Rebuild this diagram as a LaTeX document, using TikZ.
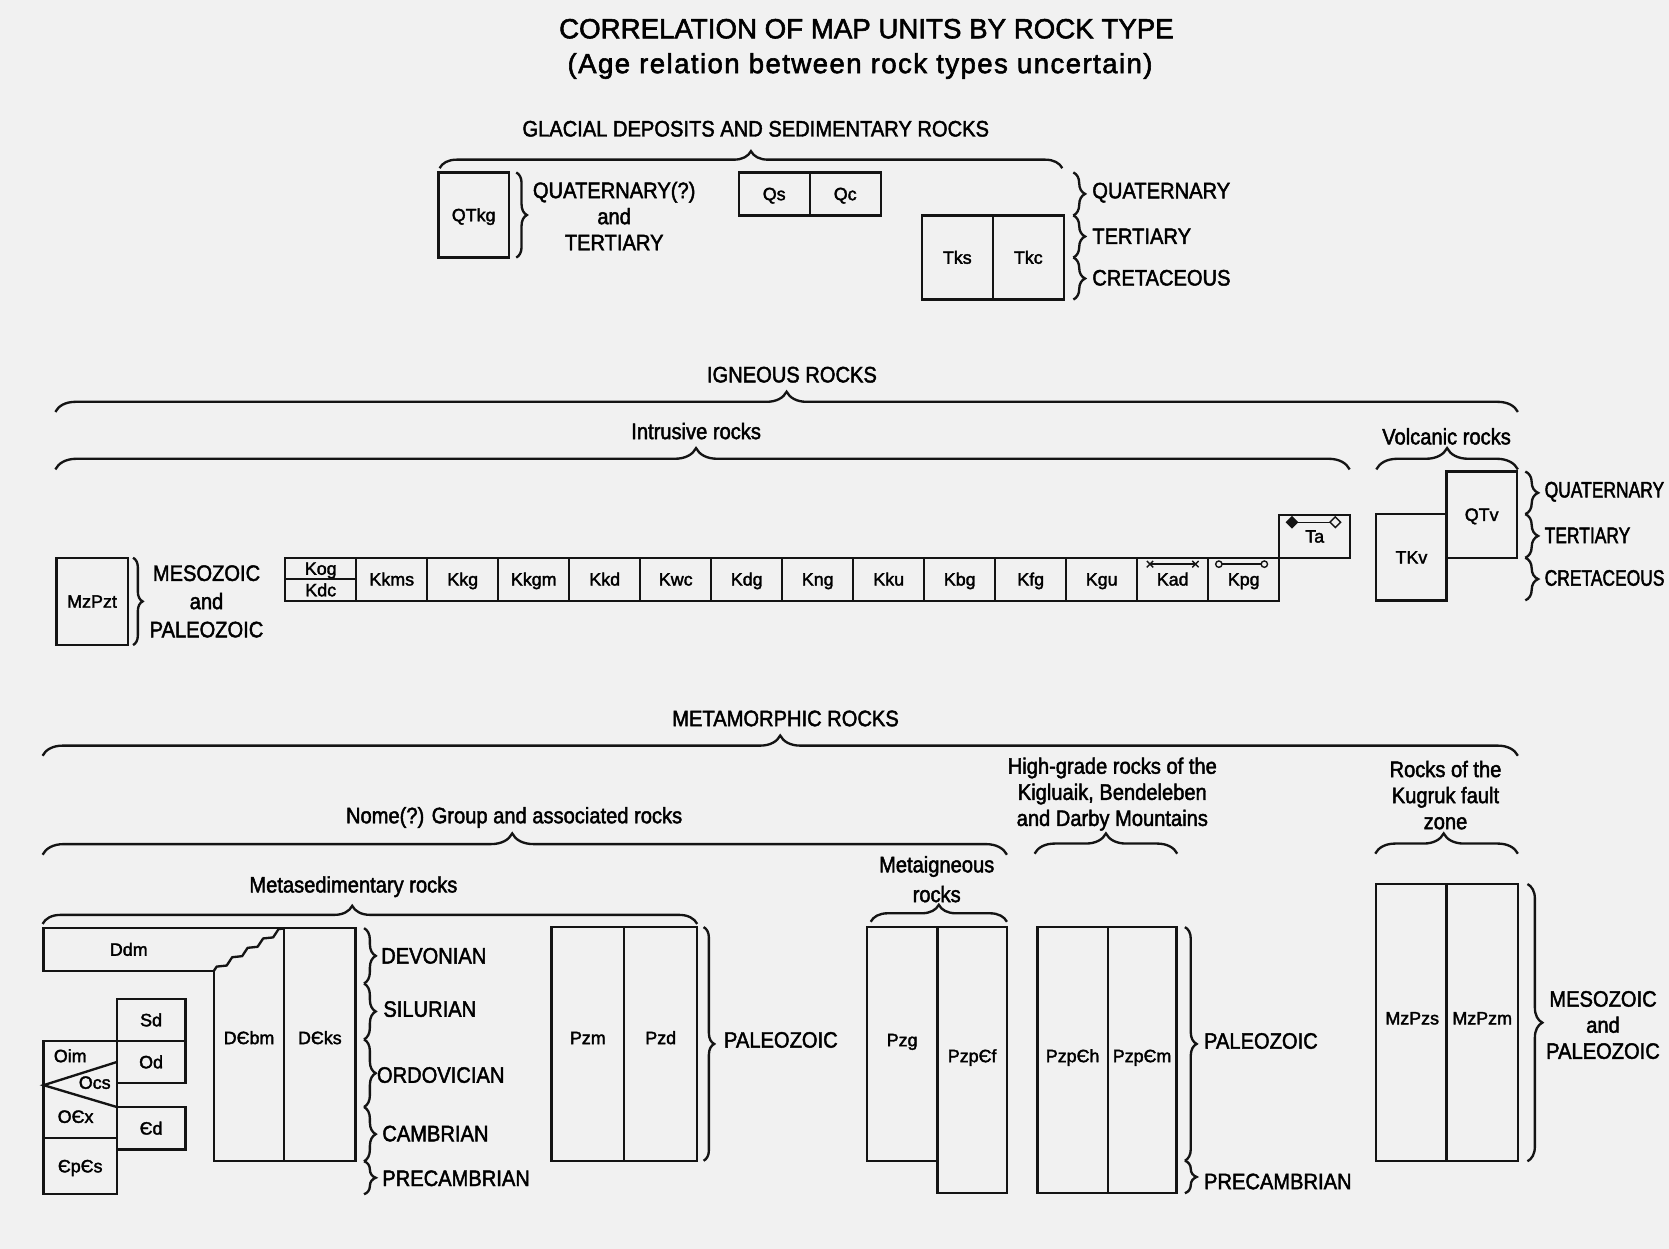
\documentclass[tikz,border=0pt]{standalone}
\usepackage{fontspec}
\setmainfont{Liberation Sans}[FakeBold=2]
\newfontfamily\narrowsans{Liberation Sans}[FakeStretch=0.9,FakeBold=2]
\newfontfamily\edgesans{Liberation Sans}[FakeStretch=0.78,FakeBold=2]
\usetikzlibrary{positioning,calc,decorations.pathreplacing,decorations.pathmorphing}
\definecolor{ink}{HTML}{141414}
\definecolor{paper}{HTML}{F1F1F1}
\tikzset{
  rockunit/.style={draw=ink,line width=2.2pt,inner sep=0pt,outer sep=0pt,minimum width=66.7pt,minimum height=40.4pt,text height=11.8pt,text depth=0pt,font=\fontsize{16.8}{19}\selectfont},
  halfunit/.style={rockunit,minimum height=20.2pt},
  unitname/.style={inner sep=0pt,outer sep=0pt,text height=11.8pt,text depth=0pt,font=\fontsize{16.8}{19}\selectfont},
  heading/.style={inner sep=0pt,font=\fontsize{26}{30}\selectfont},
  group/.style={inner sep=0pt,align=center,font=\narrowsans\fontsize{21}{24.5}\selectfont},
  era/.style={inner sep=0pt,anchor=west,font=\narrowsans\fontsize{21}{24.5}\selectfont},
  edgeera/.style={era,font=\edgesans\fontsize{21}{24.5}\selectfont},
  contact/.style={draw=ink,line width=2.2pt},
  symline/.style={draw=ink,line width=1.3pt},
  hbrace/.style={draw=ink,line width=2.2pt,decorate,decoration={brace,amplitude=19pt}},
  vbrace/.style={draw=ink,line width=2.2pt,decorate,decoration={brace,amplitude=11pt}}
}

\begin{document}
\begin{tikzpicture}[x=1pt,y=-1pt]
\fill[paper] (0,0) rectangle (1568,1173);
\useasboundingbox (0,0) rectangle (1568,1173);

\node[heading] (title) at (814,27) {CORRELATION OF MAP UNITS BY ROCK TYPE};
\node[heading] (subtitle) at (808,62) {\addfontfeature{LetterSpace=5}(Age relation between rock types uncertain)};

% glacial deposits and sedimentary rocks
\node[group] (glacial) at (710,121) {GLACIAL DEPOSITS AND SEDIMENTARY ROCKS};
\draw[hbrace,decoration={amplitude=16pt}] (413,158) -- (998,158);
\node[rockunit,anchor=north west,minimum width=66pt,minimum height=80pt] (qtkg) at (412,162) {QTkg};
\draw[vbrace,decoration={amplitude=10pt}] ($(qtkg.north east)+(7,0)$) -- ($(qtkg.south east)+(7,0)$);
\node[group] (qtkgage) at (577,203) {QUATERNARY(?)\\and\\TERTIARY};
\node[rockunit,anchor=north west] (qs) at (694,162) {Qs};
\node[rockunit,right=0pt of qs] (qc) {Qc};
\node[rockunit,anchor=north west,minimum height=79pt] (tks) at (866,202.4) {Tks};
\node[rockunit,right=0pt of tks,minimum height=79pt] (tkc) {Tkc};
\draw[vbrace] ($(tkc.north east |- qc.north)+(9,0)$) -- ($(tkc.north east)+(9,0)$);
\draw[vbrace] ($(tkc.north east)+(9,0)$) -- ($(tkc.east)+(9,0)$);
\draw[vbrace] ($(tkc.east)+(9,0)$) -- ($(tkc.south east)+(9,0)$);
\node[era] (quat1) at (1026,181) {QUATERNARY};
\node[era] (tert1) at (1026,222) {TERTIARY};
\node[era] (cret1) at (1026,261) {CRETACEOUS};

% igneous rocks
\node[group] (igneous) at (744,352) {IGNEOUS ROCKS};
\draw[hbrace] (52,387) -- (1426,387);
\node[group] (intrusive) at (654,405) {Intrusive rocks};
\draw[hbrace,decoration={amplitude=20pt,aspect=0.495}] (52,441) -- (1268,441);
\node[group] (volcanic) at (1359,410) {Volcanic rocks};
\draw[hbrace,decoration={amplitude=20pt}] (1293,441) -- (1426,441);

\node[rockunit,anchor=north west,minimum width=67pt,minimum height=82pt] (mzpzt) at (53,524) {MzPzt};
\draw[vbrace,decoration={amplitude=9pt}] ($(mzpzt.north east)+(5,0)$) -- ($(mzpzt.south east)+(5,0)$);
\node[group,font=\narrowsans\fontsize{21}{26.5}\selectfont] (mzpztage) at (194,565) {MESOZOIC\\and\\PALEOZOIC};

\node[rockunit,anchor=north west] (kkms) at (334.7,524) {Kkms};
\node[halfunit,anchor=north east] (kog) at (kkms.north west) {Kog};
\node[halfunit,below=0pt of kog] (kdc) {Kdc};
\node[rockunit,right=0pt of kkms] (kkg) {Kkg};
\node[rockunit,right=0pt of kkg] (kkgm) {Kkgm};
\node[rockunit,right=0pt of kkgm] (kkd) {Kkd};
\node[rockunit,right=0pt of kkd] (kwc) {Kwc};
\node[rockunit,right=0pt of kwc] (kdg) {Kdg};
\node[rockunit,right=0pt of kdg] (kng) {Kng};
\node[rockunit,right=0pt of kng] (kku) {Kku};
\node[rockunit,right=0pt of kku] (kbg) {Kbg};
\node[rockunit,right=0pt of kbg] (kfg) {Kfg};
\node[rockunit,right=0pt of kfg] (kgu) {Kgu};
\node[rockunit,right=0pt of kgu] (kad) {Kad};
\node[rockunit,right=0pt of kad] (kpg) {Kpg};
\node[rockunit,anchor=south west] (ta) at (kpg.north east) {Ta};

\draw[symline] ($(kad.north west)+(12,6)$) -- ($(kad.north east)+(-12,6)$);
\draw[symline] ($(kad.north west)+(9,3)$) -- ++(6,6) ++(0,-6) -- ++(-6,6);
\draw[symline] ($(kad.north east)+(-15,3)$) -- ++(6,6) ++(0,-6) -- ++(-6,6);
\draw[symline] ($(kpg.north west)+(13,6)$) -- ($(kpg.north east)+(-17,6)$);
\draw[symline,fill=paper] ($(kpg.north west)+(10,6)$) circle (3pt);
\draw[symline,fill=paper] ($(kpg.north east)+(-14,6)$) circle (3pt);
\draw[symline] ($(ta.north west)+(12,7)$) -- ($(ta.north east)+(-14,7)$);
\draw[symline,fill=ink] ($(ta.north west)+(7,7)$) -- ++(5,-5) -- ++(5,5) -- ++(-5,5) -- cycle;
\draw[symline,fill=paper] ($(ta.north east)+(-19,7)$) -- ++(5,-5) -- ++(5,5) -- ++(-5,5) -- cycle;

\node[rockunit,anchor=north west,minimum width=66pt,minimum height=81pt] (tkv) at (1293,483) {TKv};
\node[rockunit,anchor=north west,minimum width=66pt,minimum height=81pt] (qtv) at ([yshift=40pt]tkv.north east) {QTv};
\draw[vbrace,decoration={amplitude=12pt}] ($(qtv.north east)+(8,0)$) -- ($(tkv.north -| qtv.east)+(8,0)$);
\draw[vbrace,decoration={amplitude=12pt}] ($(tkv.north -| qtv.east)+(8,0)$) -- ($(qtv.south east)+(8,0)$);
\draw[vbrace,decoration={amplitude=12pt}] ($(qtv.south east)+(8,0)$) -- ($(tkv.south -| qtv.east)+(8,0)$);
\node[edgeera] (quat2) at (1451,462) {QUATERNARY};
\node[edgeera] (tert2) at (1451,503) {TERTIARY};
\node[edgeera] (cret2) at (1451,543) {CRETACEOUS};

% metamorphic rocks
\node[group] (metamorphic) at (738,675) {METAMORPHIC ROCKS};
\draw[hbrace] (40,710) -- (1426,710);
\node[group] (nome) at (483,768) {Nome(?) Group and associated rocks};
\draw[hbrace,decoration={amplitude=20pt,aspect=0.487}] (40,803) -- (946,803);
\node[group] (highgrade) at (1045,746) {High-grade rocks of the\\Kigluaik, Bendeleben\\and Darby Mountains};
\draw[hbrace] (972,802) -- (1106,802);
\node[group] (kugruk) at (1358,747) {Rocks of the\\Kugruk fault\\zone};
\draw[hbrace,decoration={aspect=0.48}] (1292,802) -- (1426,802);
\node[group,font=\narrowsans\fontsize{21}{28}\selectfont] (metaig) at (880,826) {Metaigneous\\rocks};
\draw[hbrace,decoration={amplitude=16pt}] (818,866) -- (946,866);
\node[group] (metased) at (332,833) {Metasedimentary rocks};
\draw[hbrace,decoration={amplitude=17pt,aspect=0.473}] (40,868) -- (655,868);

\node[rockunit,anchor=north west,minimum width=67pt,minimum height=219pt] (dcks) at (267,872) {};
\node[unitname,anchor=south east,minimum width=66pt,minimum height=179pt] (dcbm) at (dcks.south west) {};
\node[unitname,anchor=north west,minimum width=160pt,minimum height=40pt] (ddm) at (41,872) {Ddm};
\draw[contact] (dcbm.north west) -- (dcbm.south west) -- (dcbm.south east);
\draw[contact] (ddm.south east) -- (ddm.south west) -- (ddm.north west) -- (dcks.north west);
\draw[contact,line join=bevel,decorate,decoration={zigzag,segment length=17pt,amplitude=2pt}] (ddm.south east) -- (dcks.north west);
\node[unitname] (dcbmname) at ($(dcbm.north)+(0,63)$) {DЄbm};
\node[unitname] (dcksname) at ($(dcks.north)+(0,103)$) {DЄks};

\node[rockunit,anchor=north west,minimum width=64.5pt,minimum height=39.5pt] (sd) at (109.7,938.5) {Sd};
\node[rockunit,below=0pt of sd,minimum width=64.5pt,minimum height=39.5pt] (od) {Od};
\node[rockunit,anchor=north west,minimum width=64.5pt,minimum height=40pt] (cd) at (109.7,1040) {Єd};
\node[rockunit,anchor=north east,minimum width=68.7pt,minimum height=91pt] (ordbox) at (od.north west) {};
\node[rockunit,below=0pt of ordbox,minimum width=68.7pt,minimum height=53pt] (cpcs) {ЄpЄs};
\draw[contact] (od.west) -- ([yshift=4pt]ordbox.west) -- (cd.north west);
\node[unitname] (oim) at ($(ordbox.north west)+(25,14)$) {Oim};
\node[unitname] (ocs) at ($(ordbox.north west)+(48,39)$) {Ocs};
\node[unitname] (ocx) at ($(ordbox.north west)+(30,71)$) {OЄx};

\coordinate (dev) at ($(dcks.north east)+(8,0)$);
\coordinate (sil) at (342,924);
\coordinate (ord) at (342,976.5);
\coordinate (cam) at (342,1040);
\coordinate (pre) at ($(dcks.south east)+(8,0)$);
\coordinate (preend) at (342,1122);
\draw[vbrace] (dev) -- (sil);
\draw[vbrace] (sil) -- (ord);
\draw[vbrace] (ord) -- (cam);
\draw[vbrace] (cam) -- (pre);
\draw[vbrace] (pre) -- (preend);
\node[era] (devonian) at (358,898) {DEVONIAN};
\node[era] (silurian) at (360,948) {SILURIAN};
\node[era] (ordovician) at (354,1010) {ORDOVICIAN};
\node[era] (cambrian) at (359,1065) {CAMBRIAN};
\node[era] (precamb1) at (359,1107) {PRECAMBRIAN};

\node[rockunit,anchor=north west,minimum width=68.5pt,minimum height=219.5pt] (pzm) at (518,871) {};
\node[rockunit,right=0pt of pzm,minimum width=68.5pt,minimum height=219.5pt] (pzd) {};
\node[unitname] (pzmname) at ($(pzm.north)+(0,104)$) {Pzm};
\node[unitname] (pzdname) at ($(pzd.north)+(0,104)$) {Pzd};
\draw[vbrace,decoration={amplitude=10pt}] ($(pzd.north east)+(6,0)$) -- ($(pzd.south east)+(6,0)$);
\node[era] (paleo1) at (680,977) {PALEOZOIC};

\node[rockunit,anchor=north west,minimum width=66.5pt,minimum height=219.5pt] (pzg) at (814.3,871) {};
\node[rockunit,anchor=north west,minimum width=65pt,minimum height=250pt] (pzpcf) at (pzg.north east) {};
\node[unitname] (pzgname) at ($(pzg.north)+(0,106)$) {Pzg};
\node[unitname] (pzpcfname) at ($(pzpcf.north)+(0,121)$) {PzpЄf};

\node[rockunit,anchor=north west,minimum width=66pt,minimum height=250pt] (pzpch) at (974.7,871) {};
\node[rockunit,right=0pt of pzpch,minimum width=64.5pt,minimum height=250pt] (pzpcm) {};
\node[unitname] (pzpchname) at ($(pzpch.north)+(0,121)$) {PzpЄh};
\node[unitname] (pzpcmname) at ($(pzpcm.north)+(0,121)$) {PzpЄm};
\draw[vbrace] ($(pzpcm.north east)+(8,0)$) -- ($(pzg.south -| pzpcm.east)+(8,0)$);
\draw[vbrace] ($(pzg.south -| pzpcm.east)+(8,0)$) -- ($(pzpcm.south east)+(8,0)$);
\node[era] (paleo2) at (1131,978) {PALEOZOIC};
\node[era] (precamb2) at (1131,1110) {PRECAMBRIAN};

\node[rockunit,anchor=north west,minimum width=66.5pt,minimum height=260.5pt] (mzpzs) at (1292.5,830.5) {};
\node[rockunit,right=0pt of mzpzs,minimum width=67pt,minimum height=260.5pt] (mzpzm) {};
\node[unitname] (mzpzsname) at ($(mzpzs.north)+(1,126)$) {MzPzs};
\node[unitname] (mzpzmname) at ($(mzpzm.north)+(0,126)$) {MzPzm};
\draw[vbrace,decoration={amplitude=14pt}] ($(mzpzm.north east)+(9,0)$) -- ($(mzpzm.south east)+(9,0)$);
\node[group] (mzpzage) at (1506,963) {MESOZOIC\\and\\PALEOZOIC};
\end{tikzpicture}
\end{document}
